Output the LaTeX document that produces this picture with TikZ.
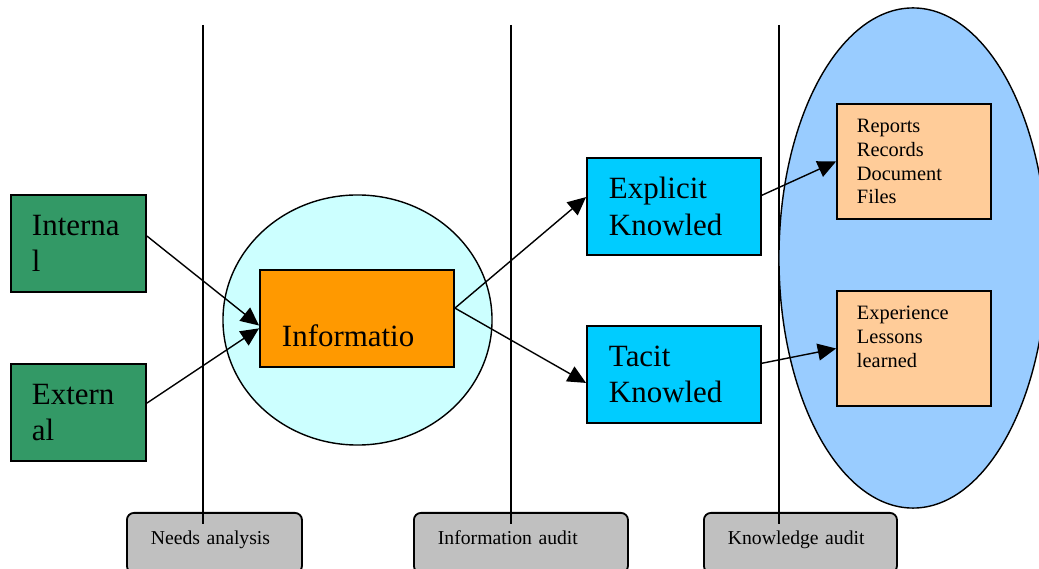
\documentclass[tikz,border=0pt]{standalone}
\usepackage{fontspec}
\setmainfont{Liberation Serif}
\usetikzlibrary{arrows.meta, shapes.geometric}

\definecolor{srcgreen}{HTML}{339966}
\definecolor{cloudcyan}{HTML}{CCFFFF}
\definecolor{infoorange}{HTML}{FF9900}
\definecolor{knowcyan}{HTML}{00CCFF}
\definecolor{auditblue}{HTML}{99CCFF}
\definecolor{itempeach}{HTML}{FFCC99}
\definecolor{stagegray}{HTML}{C0C0C0}

\newcommand{\bigtext}{\fontsize{22}{26}\selectfont}
\newcommand{\smalltext}{\fontsize{14.5}{17}\selectfont}
\newcommand{\stagetext}{\fontsize{14}{16}\selectfont}

\tikzset{
    boxline/.style={draw, line width=1.3pt, inner ysep=0pt, align=left},
    srcbox/.style={boxline, fill=srcgreen, font=\bigtext,
        minimum width=3.375cm, minimum height=2.425cm,
        text width=2.325cm, inner xsep=0.525cm},
    infobox/.style={boxline, fill=infoorange, font=\bigtext,
        minimum width=4.85cm, minimum height=2.425cm,
        text width=3.75cm, inner xsep=0.55cm,
        text height=40.4pt, text depth=0pt},
    knowbox/.style={boxline, fill=knowcyan, font=\bigtext,
        minimum width=4.35cm, minimum height=2.425cm,
        text width=3.25cm, inner xsep=0.55cm},
    itembox/.style={boxline, fill=itempeach, font=\smalltext,
        minimum width=3.85cm, minimum height=2.875cm,
        text width=2.85cm, inner xsep=0.5cm},
    stagebox/.style={boxline, fill=stagegray, font=\stagetext,
        rounded corners=5pt, anchor=north west,
        minimum height=1.5cm, text width=#1, inner xsep=0.6cm,
        text depth=7pt},
    cloud/.style={draw, line width=1pt, ellipse, inner sep=0pt},
    divider/.style={line width=1.1pt},
    arr/.style={-{Triangle[length=13pt, width=12pt]}, line width=1pt},
}

\begin{document}
\begin{tikzpicture}[x=0.025cm, y=-0.025cm]

    \useasboundingbox (0, 0) rectangle (1039, 569);

    % Stages
    \node[stagebox=3.175cm] (needs) at (126, 512) {Needs analysis};
    \node[stagebox=4.15cm] (infoaudit) at (413, 512) {Information audit};
    \node[stagebox=3.625cm] (knowaudit) at (703, 512) {Knowledge audit};

    % Dividers
    \draw[divider] (203, 25) -- (203, 524);
    \draw[divider] (511, 25) -- (511, 524);
    \draw[divider] (779, 25) -- (779, 524);

    % Clouds
    \node[cloud, fill=cloudcyan, minimum width=6.725cm, minimum height=6.25cm]
        (infocloud) at (357.5, 320) {};
    \node[cloud, fill=auditblue, minimum width=6.7cm, minimum height=12.5cm]
        (knowcloud) at (913, 258) {};

    % Sources
    \node[srcbox] (int) at (78.5, 243.5) {Interna\\l};
    \node[srcbox] (ext) at (78.5, 412.5) {Extern\\al};

    % Information
    \node[infobox] (info) at (357, 318.5) {Informatio};

    % Knowledge
    \node[knowbox] (expl) at (674, 206.5) {Explicit\\Knowled};
    \node[knowbox] (tacit) at (674, 374.5) {Tacit\\Knowled};

    % Items
    \node[itembox] (rep) at (914, 161.5) {Reports\\Records\\Document\\Files};
    \node[itembox] (exper) at (914, 348.5) {Experience\\Lessons\\learned\\\mbox{}};

    % Arrows
    \draw[arr] ([yshift=5.3pt]int.east) -- ([yshift=-5pt]info.west);
    \draw[arr] ([yshift=6.7pt]ext.east) -- ([yshift=-7pt]info.west);
    \draw[arr] ([yshift=7.4pt]info.east) -- ([yshift=6.7pt]expl.west);
    \draw[arr] ([yshift=7.4pt]info.east) -- ([yshift=-6pt]tacit.west);
    \draw[arr] ([yshift=8pt]expl.east) -- (rep.west);
    \draw[arr] ([yshift=8pt]tacit.east) -- (exper.west);

\end{tikzpicture}
\end{document}
